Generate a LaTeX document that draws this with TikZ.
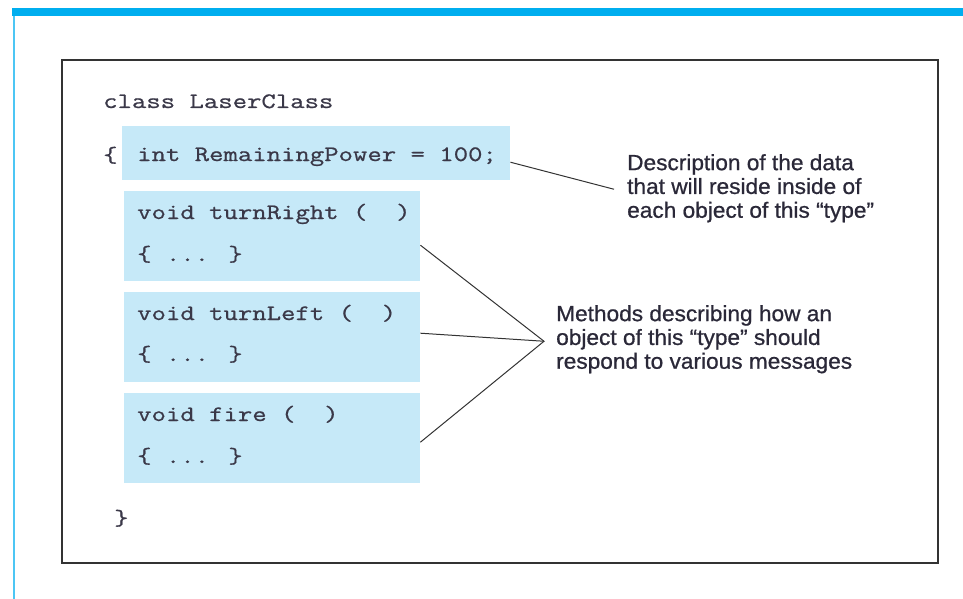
\documentclass[tikz,border=0pt]{standalone}
\usepackage{fontspec}
\setmainfont{Liberation Sans}
\newfontfamily\codefont[FakeStretch=1.27,FakeBold=0.8]{Latin Modern Mono}
\newfontfamily\notefont[FakeBold=0.8,FakeStretch=1.03]{Liberation Sans}
\definecolor{barblue}{HTML}{00AEEF}
\definecolor{boxblue}{HTML}{C6E9F8}
\definecolor{codegray}{HTML}{3A3848}
\definecolor{annot}{HTML}{2A2838}
\begin{document}
\begin{tikzpicture}[x=1pt,y=-1pt,
  codebox/.style={fill=boxblue, draw=none, inner sep=0pt, anchor=north west},
  code/.style={anchor=base west, inner sep=0pt, text=codegray, font=\codefont\fontsize{22}{26}\selectfont},
  note/.style={anchor=north west, inner sep=0pt, align=left, text=annot, font=\notefont\fontsize{22}{23.8}\selectfont},
  link/.style={draw=black!80, line width=1pt}]
\useasboundingbox (0,0) rectangle (963,599);
% page frame
\fill[barblue] (12,8) rectangle (963,16);
\draw[barblue!70, line width=1.2pt] (14,16) -- (14,599);
% outer box
\draw[black!80, line width=1.5pt] (62,60) rectangle (938,563);
% blue boxes
\node[codebox, minimum width=388pt, minimum height=54pt] (b1) at (122,126) {};
\node[codebox, minimum width=296pt, minimum height=90pt] (b2) at (124,191) {};
\node[codebox, minimum width=296pt, minimum height=90pt] (b3) at (124,292) {};
\node[codebox, minimum width=296pt, minimum height=90pt] (b4) at (124,393) {};
% code text
\node[code] (c0) at (103,108) {class LaserClass};
\node[code] (ob) at (103,162) {\{};
\node[code] (c1) at (137,161) {int RemainingPower = 100;};
\node[code] (c2) at (137,219) {void turnRight (~~)};
\node[code] (c2b) at (137,261) {\{ ... \}};
\node[code] (c3) at (137,320) {void turnLeft (~~)};
\node[code] (c3b) at (137,361) {\{ ... \}};
\node[code] (c4) at (137,421) {void fire (~~)};
\node[code] (c4b) at (137,463) {\{ ... \}};
\node[code] (cb) at (114,525) {\}};
% annotations
\node[note] (d1) at (627,154) {Description of the data\\that will reside inside of\\each object of this “type”};
\node[note] (d2) at (556,305) {Methods describing how an\\object of this “type” should\\respond to various messages};
\coordinate (p1) at ([yshift=-9pt]b1.east);
\coordinate (q1) at ([xshift=-13pt,yshift=-1pt]d1.west);
\coordinate (p2) at ([yshift=-9pt]b2.east);
\coordinate (p3) at ([yshift=4pt]b3.east);
\coordinate (p4) at ([yshift=-4pt]b4.east);
\coordinate (q2) at ([xshift=-12pt,yshift=-2pt]d2.west);
\draw[link] (p1) -- (q1);
\draw[link] (p2) -- (q2) -- (p4);
\draw[link] (p3) -- (q2);
\end{tikzpicture}
\end{document}
